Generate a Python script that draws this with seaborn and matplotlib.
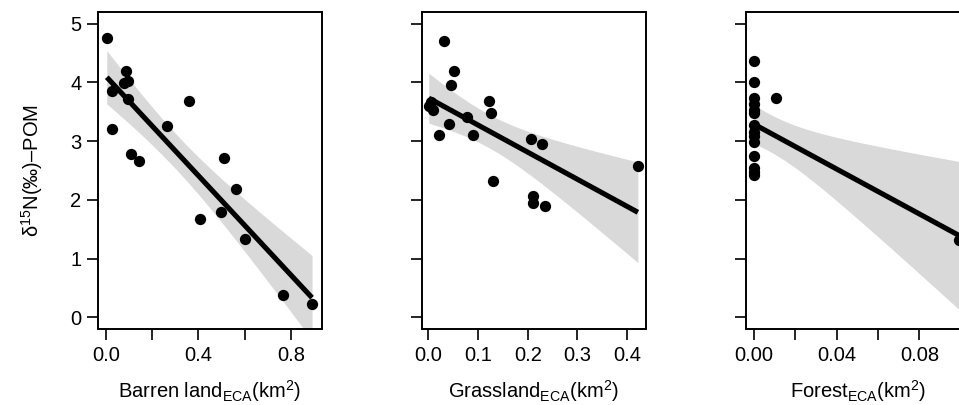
import numpy as np
import matplotlib
matplotlib.use('Agg')
import matplotlib.pyplot as plt
import seaborn as sns

# d15N of POM against ECA land cover
barren_x = [0.003, 0.086, 0.077, 0.096, 0.024, 0.096, 0.027, 0.361, 0.264, 0.110,
            0.143, 0.512, 0.562, 0.497, 0.407, 0.602, 0.767, 0.892]
barren_y = [4.76, 4.20, 3.99, 4.02, 3.86, 3.72, 3.21, 3.69, 3.26, 2.78,
            2.67, 2.71, 2.18, 1.80, 1.68, 1.34, 0.38, 0.23]

grass_x = [0.032, 0.052, 0.045, 0.001, 0.009, 0.005, 0.022, 0.042, 0.077, 0.089,
           0.123, 0.126, 0.206, 0.229, 0.130, 0.210, 0.210, 0.234, 0.4215]
grass_y = [4.70, 4.20, 3.96, 3.60, 3.53, 3.67, 3.10, 3.30, 3.41, 3.11,
           3.68, 3.48, 3.03, 2.95, 2.32, 2.07, 1.94, 1.90, 2.58]

forest_x = [0.0, 0.0, 0.0, 0.0, 0.0, 0.0, 0.0, 0.0, 0.0, 0.0, 0.0, 0.0, 0.0, 0.0,
            0.0106, 0.0994]
forest_y = [4.36, 4.00, 3.74, 3.64, 3.53, 3.48, 3.28, 3.16, 3.08, 2.99, 2.74, 2.54,
            2.48, 2.43, 3.74, 1.32]

x_labels = [r'Barren land$_{\mathregular{ECA}}$(km$^{\mathregular{2}}$)',
            r'Grassland$_{\mathregular{ECA}}$(km$^{\mathregular{2}}$)',
            r'Forest$_{\mathregular{ECA}}$(km$^{\mathregular{2}}$)']
y_label = r'δ$^{\mathregular{15}}$N(‰)–POM'
x_ticks = [[0.0, 0.2, 0.4, 0.6, 0.8], [0.0, 0.1, 0.2, 0.3, 0.4],
           [0.0, 0.02, 0.04, 0.06, 0.08, 0.10]]
x_ticklabels = [['0.0', '', '0.4', '', '0.8'], ['0.0', '0.1', '0.2', '0.3', '0.4'],
                ['0.00', '', '0.04', '', '0.08', '']]
x_lims = [(-0.035, 0.935), (-0.0133, 0.437), (-0.0039, 0.1045)]

# t(0.975, n-2) for the 95% band
t_975 = {14: 2.145, 16: 2.120, 17: 2.110}

sns.set_theme(style='ticks')
plt.rcParams['font.family'] = ['Liberation Sans', 'DejaVu Sans']
plt.rcParams['mathtext.fontset'] = 'custom'
plt.rcParams['mathtext.rm'] = 'Liberation Sans'
for key in ['text.color', 'axes.labelcolor', 'xtick.color', 'ytick.color']:
    plt.rcParams[key] = 'black'

fig = plt.figure(figsize=(9.59, 4.05), dpi=100)
lefts = [0.1022, 0.4397, 0.7779]
datasets = [(barren_x, barren_y), (grass_x, grass_y), (forest_x, forest_y)]

for i, (xs, ys) in enumerate(datasets):
    ax = fig.add_axes([lefts[i], 0.1877, 0.2335, 0.7827])
    x = np.array(xs)
    y = np.array(ys)
    n = len(x)
    b, a = np.polyfit(x, y, 1)
    resid = y - (a + b * x)
    s = np.sqrt(np.sum(resid ** 2) / (n - 2))
    grid = np.linspace(x.min(), x.max(), 200)
    se = s * np.sqrt(1 / n + (grid - x.mean()) ** 2 / np.sum((x - x.mean()) ** 2))
    fit = a + b * grid
    ax.fill_between(grid, fit - t_975[n - 2] * se, fit + t_975[n - 2] * se,
                    color='#d9d9d9', lw=0, zorder=0.5)
    sns.regplot(x=x, y=y, ax=ax, ci=None, color='black',
                scatter_kws={'s': 66, 'alpha': 1, 'linewidths': 0, 'zorder': 3},
                line_kws={'lw': 3.7, 'zorder': 2, 'solid_capstyle': 'butt'})

    ax.set_xlim(*x_lims[i])
    ax.set_ylim(-0.2, 5.2)
    ax.set_yticks([0, 1, 2, 3, 4, 5])
    ax.set_xticks(x_ticks[i])
    ax.set_xticklabels(x_ticklabels[i])
    ax.tick_params(axis='both', direction='out', length=8, width=1.2,
                   color='black', labelcolor='black', labelsize=14.5, pad=4)
    if i == 0:
        ax.set_ylabel(y_label, fontsize=14.5, labelpad=18)
    else:
        ax.set_yticklabels([])
        ax.set_ylabel('')
    ax.set_xlabel(x_labels[i], fontsize=14.5, labelpad=10)
    for sp in ax.spines.values():
        sp.set_visible(True)
        sp.set_color('black')
        sp.set_linewidth(1.4)

fig.savefig('out.png', dpi=100)
